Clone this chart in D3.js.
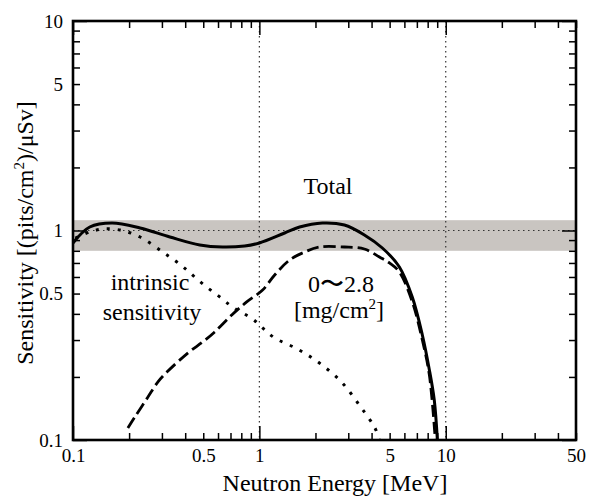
<!DOCTYPE html>
<html><head><meta charset="utf-8">
<script src="https://cdn.jsdelivr.net/npm/d3@7"></script>
<style>
body{margin:0;background:#fff}
</style>
</head><body>
<svg id="c" width="602" height="498" font-family="Liberation Serif"></svg>
<script>
// ---- data ----
const totalE = [0.1, 0.123, 0.162, 0.229, 0.331, 0.479, 0.635, 0.834, 1.0, 1.366, 1.644, 2.18, 2.86, 3.66, 4.57, 5.64, 6.62, 7.49, 8.17, 8.68, 9.02];
const totalS = [0.872, 1.039, 1.086, 1.028, 0.931, 0.853, 0.834, 0.844, 0.872, 0.973, 1.039, 1.086, 1.062, 0.952, 0.825, 0.67, 0.48, 0.317, 0.216, 0.155, 0.1];
const intrinsicE = [0.103, 0.123, 0.145, 0.179, 0.229, 0.303, 0.361, 0.408, 0.462, 0.529, 0.613, 0.719, 0.92, 1.04, 1.208, 1.60, 2.10, 2.76, 3.49, 4.15, 4.41];
const intrinsicS = [0.92, 0.984, 1.017, 1.005, 0.931, 0.789, 0.707, 0.648, 0.587, 0.532, 0.482, 0.431, 0.378, 0.343, 0.307, 0.272, 0.233, 0.189, 0.144, 0.115, 0.101];
const layerE = [0.197, 0.215, 0.252, 0.285, 0.319, 0.413, 0.497, 0.576, 0.711, 0.855, 1.041, 1.208, 1.453, 1.748, 2.10, 2.86, 3.66, 4.41, 4.99, 5.64, 6.62, 7.49, 8.17, 8.79];
const layerS = [0.114, 0.129, 0.160, 0.189, 0.211, 0.260, 0.294, 0.328, 0.395, 0.456, 0.520, 0.613, 0.723, 0.789, 0.834, 0.834, 0.816, 0.747, 0.70, 0.634, 0.456, 0.30, 0.204, 0.1];
const bandRange = [0.8, 1.12];
const xTicks = [0.1,0.2,0.3,0.4,0.5,0.6,0.7,0.8,0.9,1,2,3,4,5,6,7,8,9,10,20,30,40,50];
const xLabels = [0.1, 0.5, 1, 5, 10, 50];
const yTicks = [0.1,0.2,0.3,0.4,0.5,0.6,0.7,0.8,0.9,1,2,3,4,5,6,7,8,9,10];
const yLabels = [0.1, 0.5, 1, 5, 10];
const majors = [0.1, 1, 10];
const gridX = [1, 10];
const gridY = [1];

// ---- layout ----
const FONT = "Liberation Serif";
const L = 73, R = 576, T = 21, B = 440;
const svg = d3.select("#c");
const x = d3.scaleLog().domain([0.1, 50]).range([L, R]);
const y = d3.scaleLog().domain([0.1, 10]).range([B, T]);
const fmt = d => String(d);

// band
svg.append("rect").attr("x", L).attr("width", R - L)
  .attr("y", y(bandRange[1])).attr("height", y(bandRange[0]) - y(bandRange[1]))
  .attr("fill", "#c9c5c1");

// grid lines
svg.selectAll(".gx").data(gridX).enter().append("line")
  .attr("x1", d => x(d)).attr("x2", d => x(d)).attr("y1", T).attr("y2", B)
  .attr("stroke", "#333").attr("stroke-width", 1.2).attr("stroke-dasharray", "1.5,3.5");
svg.selectAll(".gy").data(gridY).enter().append("line")
  .attr("y1", d => y(d)).attr("y2", d => y(d)).attr("x1", L).attr("x2", R)
  .attr("stroke", "#333").attr("stroke-width", 1.2).attr("stroke-dasharray", "1.5,3.5");

// curves
const line = d3.line().x(d => x(d[0])).y(d => y(d[1])).curve(d3.curveCatmullRom.alpha(0.5));
svg.append("clipPath").attr("id", "clp").append("rect")
  .attr("x", L).attr("y", T).attr("width", R - L).attr("height", B - T);
const g = svg.append("g").attr("clip-path", "url(#clp)");
g.append("path").attr("d", line(d3.zip(intrinsicE, intrinsicS)))
  .attr("fill", "none").attr("stroke", "#000").attr("stroke-width", 3).attr("stroke-dasharray", "3,8");
g.append("path").attr("d", line(d3.zip(layerE, layerS)))
  .attr("fill", "none").attr("stroke", "#000").attr("stroke-width", 2.8).attr("stroke-dasharray", "12,5");
g.append("path").attr("d", line(d3.zip(totalE, totalS)))
  .attr("fill", "none").attr("stroke", "#000").attr("stroke-width", 3);

// axes
function styleAxis(sel) {
  sel.attr("font-family", FONT).attr("font-size", null);
  sel.select(".domain").remove();
  sel.selectAll(".tick line").attr("stroke", "#000").attr("stroke-width", 1.5);
  sel.selectAll(".tick text").attr("font-family", FONT).attr("font-size", 19).attr("fill", "#000");
}
const minor = 7, major = 14;
const ax = svg.append("g").attr("transform", `translate(0,${B})`)
  .call(d3.axisBottom(x).tickValues(xTicks).tickSize(-minor).tickPadding(9)
    .tickFormat(d => xLabels.includes(d) ? fmt(d) : ""));
styleAxis(ax);
ax.selectAll(".tick line").filter(d => majors.includes(d)).attr("y2", -major);
const axT = svg.append("g").attr("transform", `translate(0,${T})`)
  .call(d3.axisTop(x).tickValues(xTicks).tickSize(-minor).tickFormat(""));
styleAxis(axT);
axT.selectAll(".tick line").filter(d => majors.includes(d)).attr("y2", major);

const ay = svg.append("g").attr("transform", `translate(${L},0)`)
  .call(d3.axisLeft(y).tickValues(yTicks).tickSize(-minor).tickPadding(10)
    .tickFormat(d => yLabels.includes(d) ? fmt(d) : ""));
styleAxis(ay);
ay.selectAll(".tick line").filter(d => majors.includes(d)).attr("x2", major);
const ayR = svg.append("g").attr("transform", `translate(${R},0)`)
  .call(d3.axisRight(y).tickValues(yTicks).tickSize(-minor).tickFormat(""));
styleAxis(ayR);
ayR.selectAll(".tick line").filter(d => majors.includes(d)).attr("x2", -major);

// frame
svg.append("rect").attr("x", L).attr("y", T).attr("width", R - L).attr("height", B - T)
  .attr("fill", "none").attr("stroke", "#000").attr("stroke-width", 2.6);

function label(xp, yp, size) {
  return svg.append("text").attr("x", xp).attr("y", yp).attr("text-anchor", "middle")
    .attr("font-family", FONT).attr("font-size", size).attr("fill", "#000");
}

// axis titles
label(335, 491, 24).text("Neutron Energy [MeV]");
const yt = svg.append("text").attr("transform", `translate(33,233) rotate(-90)`)
  .attr("text-anchor", "middle").attr("font-family", FONT).attr("font-size", 24).attr("fill", "#000");
yt.append("tspan").text("Sensitivity [(pits/cm");
yt.append("tspan").attr("dy", -9).attr("font-size", 15).text("2");
yt.append("tspan").attr("dy", 9).text(")/\u03BCSv]");

// annotations
label(328, 194, 24).text("Total");
label(150, 290, 24).text("intrinsic");
label(152, 320, 24).text("sensitivity");
label(341, 292, 24).text("0\u301C2.8");
const mg = label(339, 318, 24);
mg.append("tspan").text("[mg/cm");
mg.append("tspan").attr("dy", -9).attr("font-size", 15).text("2");
mg.append("tspan").attr("dy", 9).text("]");
</script>
</body></html>
